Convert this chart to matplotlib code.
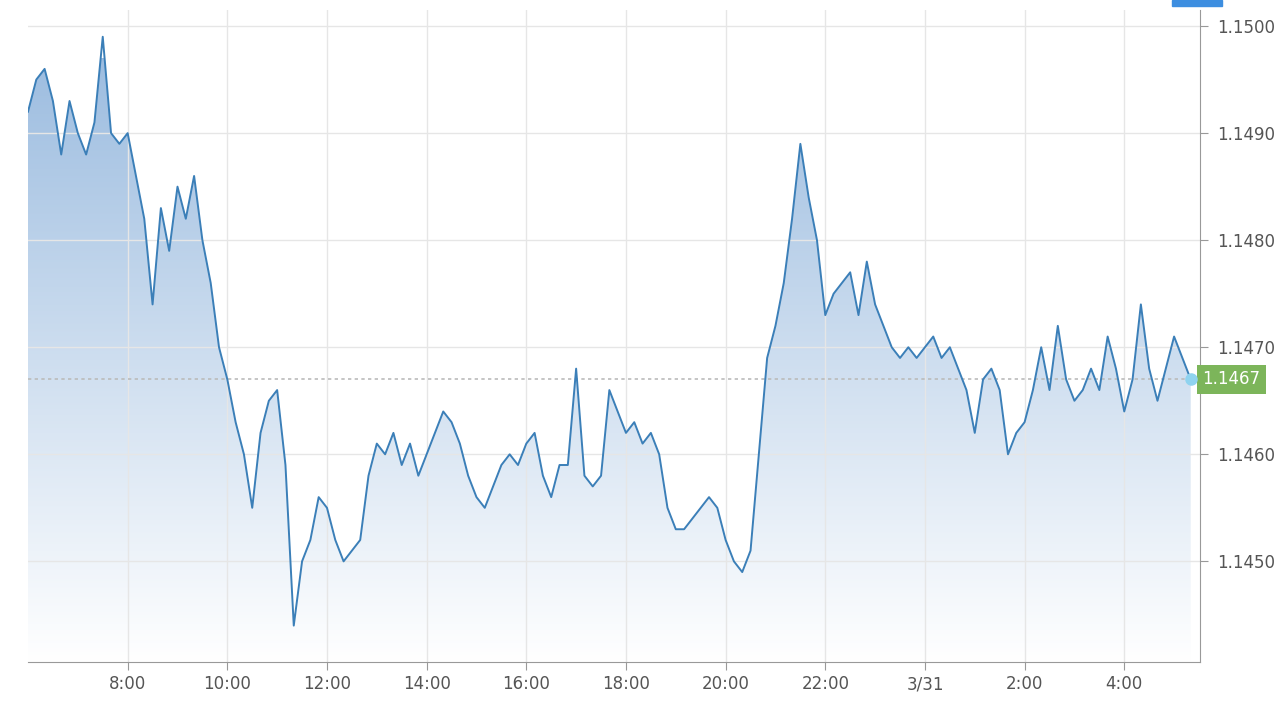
import matplotlib
matplotlib.use("Agg")
import matplotlib.pyplot as plt
import numpy as np
from matplotlib.patches import Polygon
from matplotlib.colors import LinearSegmentedColormap

start_hour = 6.0
step_min = 10
values = [1.1492,1.1495,1.1496,1.1493,1.1488,1.1493,1.1490,1.1488,1.1491,1.1499,1.1490,1.1489,
 1.1490,1.1486,1.1482,1.1474,1.1483,1.1479,1.1485,1.1482,1.1486,1.1480,1.1476,1.1470,
 1.1467,1.1463,1.1460,1.1455,1.1462,1.1465,1.1466,1.1459,1.1444,1.1450,1.1452,1.1456,
 1.1455,1.1452,1.1450,1.1451,1.1452,1.1458,1.1461,1.1460,1.1462,1.1459,1.1461,1.1458,
 1.1460,1.1462,1.1464,1.1463,1.1461,1.1458,1.1456,1.1455,1.1457,1.1459,1.1460,1.1459,
 1.1461,1.1462,1.1458,1.1456,1.1459,1.1459,1.1468,1.1458,1.1457,1.1458,1.1466,1.1464,
 1.1462,1.1463,1.1461,1.1462,1.1460,1.1455,1.1453,1.1453,1.1454,1.1455,1.1456,1.1455,
 1.1452,1.1450,1.1449,1.1451,1.1460,1.1469,1.1472,1.1476,1.1482,1.1489,1.1484,1.1480,
 1.1473,1.1475,1.1476,1.1477,1.1473,1.1478,1.1474,1.1472,1.1470,1.1469,1.1470,1.1469,
 1.1470,1.1471,1.1469,1.1470,1.1468,1.1466,1.1462,1.1467,1.1468,1.1466,1.1460,1.1462,
 1.1463,1.1466,1.1470,1.1466,1.1472,1.1467,1.1465,1.1466,1.1468,1.1466,1.1471,1.1468,
 1.1464,1.1467,1.1474,1.1468,1.1465,1.1468,1.1471,1.1469,1.1467]
last_price = 1.1467
tick_hours = [8,10,12,14,16,18,20,22,24,26,28]
tick_labels = ["8:00","10:00","12:00","14:00","16:00","18:00","20:00","22:00","3/31","2:00","4:00"]
y_ticks = [1.1450,1.1460,1.1470,1.1480,1.1490,1.1500]

x = start_hour + np.arange(len(values))*step_min/60.0
y = np.array(values)

fig = plt.figure(figsize=(12.8,7.2), dpi=100)
ax = fig.add_axes([28/1280, 1-662/720, 1172/1280, 652/720])
xmin, xmax = 6.0, 29.52
ymin, ymax = 1.14406, 1.15015
ax.set_xlim(xmin, xmax); ax.set_ylim(ymin, ymax)

grad = np.linspace(1, 0, 256).reshape(-1, 1)
cmap = LinearSegmentedColormap.from_list("g", ["#ffffff", "#9dbde0"])
im = ax.imshow(grad, extent=[xmin, xmax, ymin, 1.1497], aspect='auto', cmap=cmap, zorder=1)
poly = Polygon(np.column_stack([np.r_[x[0], x, x[-1]], np.r_[ymin, y, ymin]]), closed=True,
               transform=ax.transData, facecolor='none', edgecolor='none')
ax.add_patch(poly)
im.set_clip_path(poly)
ax.plot(x, y, color='#3b7fb8', lw=1.4, zorder=3)
ax.axhline(last_price, color='#bbbbbb', ls=(0,(2,2)), lw=1.2, zorder=2)
ax.plot([x[-1]], [last_price], 'o', ms=8, color='#8fd3ef', zorder=4)

ax.set_xticks(tick_hours); ax.set_xticklabels(tick_labels)
ax.set_yticks(y_ticks); ax.set_yticklabels([f"{v:.4f}" for v in y_ticks])
ax.grid(True, color='#e6e6e6', lw=1)
ax.yaxis.tick_right()
for s in ['top','left']:
    ax.spines[s].set_visible(False)
ax.spines['right'].set_color('#999999'); ax.spines['bottom'].set_color('#999999')
ax.tick_params(axis='both', colors='#555555', labelsize=12, length=6)
ax.tick_params(axis='x', color='#999999')
ax.tick_params(axis='y', color='#999999', pad=6)
ax.text(1.002, (last_price-ymin)/(ymax-ymin), f"{last_price:.4f}", transform=ax.transAxes,
        va='center', ha='left', fontsize=12, color='white',
        bbox=dict(boxstyle='square,pad=0.35', fc='#7cb55a', ec='none'))
fig.patches.append(plt.Rectangle((1172/1280, 1-6/720), 50/1280, 6/720, transform=fig.transFigure,
                                 color='#3d8ee0'))
fig.savefig("out.png", dpi=100)
